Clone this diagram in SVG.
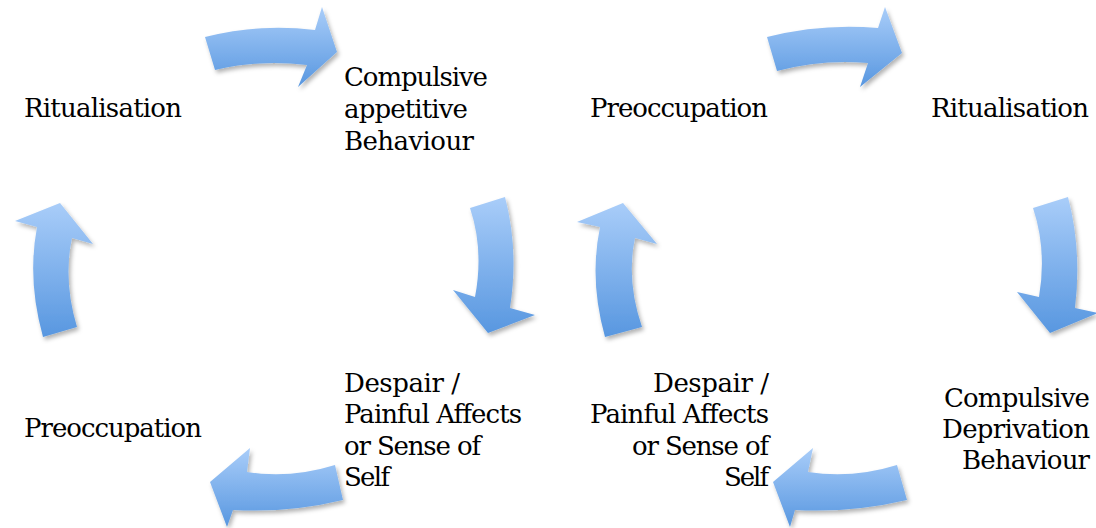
<svg xmlns="http://www.w3.org/2000/svg" width="1096" height="528" viewBox="0 0 1096 528">
<defs>
<linearGradient id="g" x1="0" y1="0" x2="0" y2="1">
<stop offset="0" stop-color="#a9cdf9"/>
<stop offset="1" stop-color="#5897e0"/>
</linearGradient>
<filter id="sh" x="-20%" y="-20%" width="150%" height="150%">
<feDropShadow dx="2" dy="3" stdDeviation="2" flood-color="#000" flood-opacity="0.3"/>
</filter>
</defs>
<style>
.t{font-family:"DejaVu Serif","Liberation Serif",serif;font-size:26px;fill:#000}
.e{text-anchor:end}
.a{fill:url(#g);filter:url(#sh)}
</style>
<rect width="1096" height="528" fill="#fff"/>
<g id="connectors">
<path class="a" d="M205,37 Q260,23 315,30 L322,7 L337,52 L298,87 L307,65 Q260,59 215,70 Z"/>
<path class="a" d="M470,208 L505,197 Q519,250 510,308 L535,315 L488,333 L453,290 L475,297 Q484,250 470,208 Z"/>
<path class="a" d="M335,465 Q290,479 247,472 L250,448 L210,482 L227,527 L233,510 Q290,513 343,500 Z"/>
<path class="a" d="M43,337 Q27,280 37,227 L15,221 L60,203 L93,244 L72,238 Q63,280 77,327 Z"/>
<path class="a" d="M767,37 Q822,23 878,28 L885,7 L902,53 L860,87 L868,63 Q822,59 777,71 Z"/>
<path class="a" d="M1033,208 L1068,197 Q1082,250 1075,308 L1098,313 L1050,333 L1017,292 L1039,297 Q1047,250 1033,208 Z"/>
<path class="a" d="M897,465 Q852,479 808,472 L813,448 L773,482 L790,527 L795,510 Q852,513 907,500 Z"/>
<path class="a" d="M605,337 Q589,280 600,227 L577,222 L623,203 L657,244 L635,238 Q626,280 642,327 Z"/>
</g>
<g id="n-ritualisation-1"><text class="t" x="24" y="117" textLength="158">Ritualisation</text></g>
<g id="n-compulsive-appetitive"><text class="t" x="344" y="86" textLength="144">Compulsive</text><text class="t" x="344" y="118" textLength="124">appetitive</text><text class="t" x="344" y="150" textLength="130">Behaviour</text></g>
<g id="n-despair-1"><text class="t" x="344" y="392" textLength="116">Despair /</text><text class="t" x="344" y="423" textLength="178">Painful Affects</text><text class="t" x="344" y="455" textLength="137">or Sense of</text><text class="t" x="344" y="486" textLength="46">Self</text></g>
<g id="n-preoccupation-1"><text class="t" x="24" y="437" textLength="178">Preoccupation</text></g>
<g id="n-preoccupation-2"><text class="t" x="590" y="117" textLength="178">Preoccupation</text></g>
<g id="n-ritualisation-2"><text class="t" x="931" y="117" textLength="158">Ritualisation</text></g>
<g id="n-compulsive-deprivation"><text class="t e" x="1090" y="407" textLength="146">Compulsive</text><text class="t e" x="1090" y="438" textLength="148">Deprivation</text><text class="t e" x="1090" y="469" textLength="128">Behaviour</text></g>
<g id="n-despair-2"><text class="t e" x="769" y="392" textLength="116">Despair /</text><text class="t e" x="769" y="423" textLength="179">Painful Affects</text><text class="t e" x="769" y="455" textLength="137">or Sense of</text><text class="t e" x="769" y="486" textLength="45">Self</text></g>
</svg>
